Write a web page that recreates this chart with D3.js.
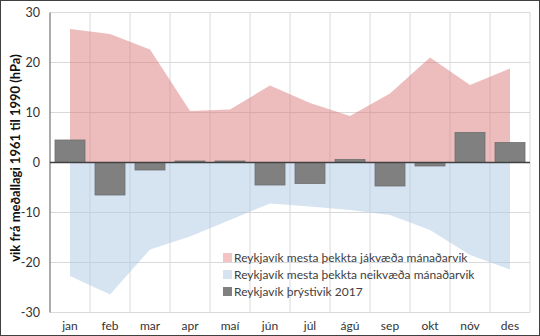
<!DOCTYPE html>
<html><head><meta charset="utf-8">
<script src="https://cdn.jsdelivr.net/npm/d3@7"></script>
<style>body{margin:0;background:#fff}svg{display:block}</style>
</head><body><svg id="c" width="540" height="336"></svg>
<script>
const months = ["jan","feb","mar","apr","maí","jún","júl","ágú","sep","okt","nóv","des"];
const maxPos = [26.7,25.7,22.6,10.3,10.6,15.4,11.9,9.3,13.8,21.0,15.5,18.8];
const maxNeg = [-22.7,-26.4,-17.4,-14.8,-11.5,-8.2,-8.8,-9.5,-10.5,-13.5,-18.5,-21.4];
const dev2017 = [4.5,-6.5,-1.5,0.3,0.3,-4.5,-4.2,0.6,-4.7,-0.7,6.0,4.0];
const yTicks = [-30,-20,-10,0,10,20,30];
const legendLabels = ["Reykjavík mesta þekkta jákvæða mánaðarvik","Reykjavík mesta þekkta neikvæða mánaðarvik","Reykjavík þrýstivik 2017"];

const svg = d3.select("#c");
const font = "Lato, 'Open Sans', sans-serif";
svg.append("rect").attr("x",0.5).attr("y",0.5).attr("width",539).attr("height",335).attr("fill","#fff").attr("stroke","#404040");

const L=50,R=530,T=12.5,B=312.5;
const x = d3.scaleBand().domain(months).range([L,R]);
const y = d3.scaleLinear().domain([-30,30]).range([B,T]);
const cx = m => x(m)+x.bandwidth()/2;

// grid
const g = svg.append("g");
g.selectAll("line.h").data(yTicks.filter(v=>v!==0)).join("line")
 .attr("x1",L).attr("x2",R).attr("y1",d=>y(d)).attr("y2",d=>y(d)).attr("stroke","#d9d9d9");
g.selectAll("line.v").data(months.map(m=>x(m)+x.bandwidth())).join("line")
 .attr("x1",d=>d).attr("x2",d=>d).attr("y1",T).attr("y2",B).attr("stroke","#d9d9d9");

// areas
const aPos = d3.area().x((d,i)=>cx(months[i])).y0(y(0)).y1(d=>y(d));
svg.append("path").datum(maxPos).attr("d",aPos).attr("fill","#dc7a7a").attr("fill-opacity",0.5);
svg.append("path").datum(maxNeg).attr("d",aPos).attr("fill","#adc9e6").attr("fill-opacity",0.5);

// bars
svg.selectAll("rect.bar").data(dev2017).join("rect")
 .attr("x",(d,i)=>cx(months[i])-15).attr("width",30)
 .attr("y",d=>y(Math.max(0,d))).attr("height",d=>Math.abs(y(d)-y(0)))
 .attr("fill","#808080").attr("stroke","#6f6f6f").attr("stroke-width",0.8);

// axes lines
svg.append("line").attr("x1",L).attr("x2",L).attr("y1",T).attr("y2",B).attr("stroke","#595959");
svg.append("line").attr("x1",L).attr("x2",R).attr("y1",y(0)).attr("y2",y(0)).attr("stroke","#404040").attr("stroke-width",1.3);

// y tick labels
svg.selectAll("text.yt").data(yTicks).join("text")
 .attr("x",40).attr("y",d=>y(d)+4.5).attr("text-anchor","end")
 .attr("font-family",font).attr("font-size",12.5).attr("fill","#333").text(d=>d);
// x tick labels
svg.selectAll("text.xt").data(months).join("text")
 .attr("x",d=>cx(d)).attr("y",330).attr("text-anchor","middle")
 .attr("font-family",font).attr("font-size",12).attr("fill","#333").text(d=>d);

// y title
svg.append("text").attr("transform","translate(20,158) rotate(-90)").attr("text-anchor","middle")
 .attr("font-family",font).attr("font-size",13).attr("font-weight","bold").attr("fill","#111")
 .text("vik frá meðallagi 1961 til 1990 (hPa)");

// legend
const lc = ["#f4c3c3","#d6e4f2","#808080"];
const lg = svg.append("g");
legendLabels.forEach((t,i)=>{
  const yy = 262 + i*17;
  lg.append("rect").attr("x",223).attr("y",yy-9).attr("width",9).attr("height",9).attr("fill",lc[i]);
  lg.append("text").attr("x",234).attr("y",yy).attr("font-family",font).attr("font-size",12).attr("fill","#404040").text(t);
});
</script></body></html>
